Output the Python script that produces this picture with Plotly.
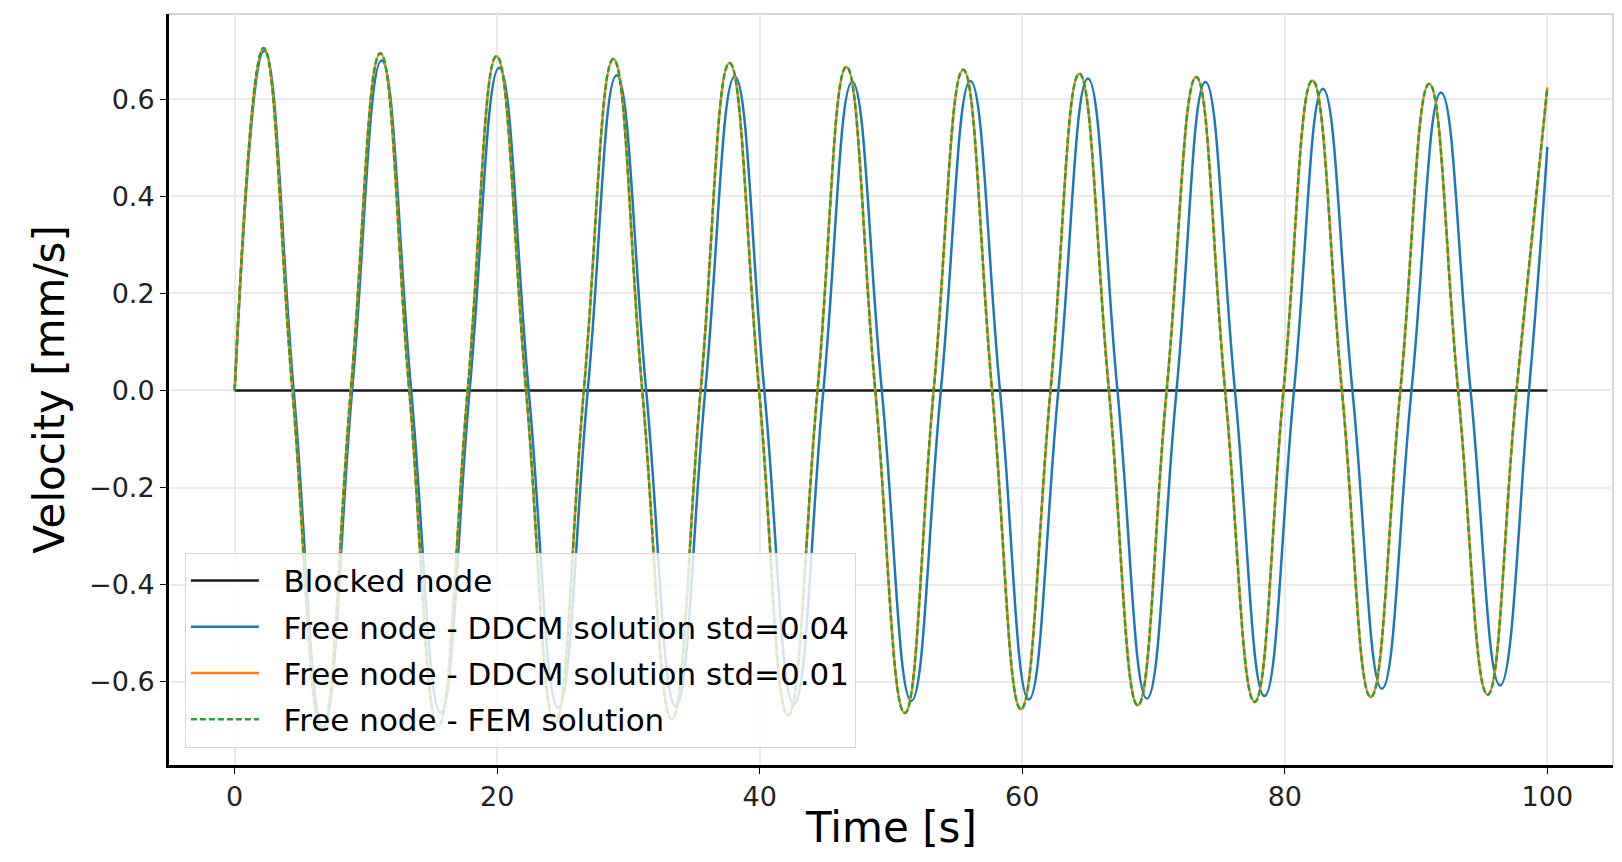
import plotly.graph_objects as go

# ---------------- data ----------------
# Blocked node: zero velocity over the whole time span
blocked_t = [0, 100]
blocked_v = [0.0, 0.0]

# Free node - FEM solution: key points (start, peaks, zero crossings, troughs, end)
fem_t = [0, 2.2, 4.4, 6.65, 8.85, 11.1, 13.3, 15.5, 17.75, 19.95, 22.2, 24.4,
         26.6, 28.85, 31.05, 33.3, 35.5, 37.7, 39.95, 42.15, 44.4, 46.6, 48.8,
         51.05, 53.25, 55.5, 57.7, 59.9, 62.15, 64.35, 66.6, 68.8, 71.0, 73.25,
         75.45, 77.7, 79.9, 82.1, 84.35, 86.55, 88.8, 91.0, 93.2, 95.45, 97.65, 100]
fem_v = [0, 0.706, 0, -0.700, 0, 0.695, 0, -0.692, 0, 0.689, 0, -0.685,
         0, 0.683, 0, -0.678, 0, 0.675, 0, -0.670, 0, 0.667, 0,
         -0.665, 0, 0.661, 0, -0.657, 0, 0.653, 0, -0.649, 0, 0.646,
         0, -0.642, 0, 0.639, 0, -0.632, 0, 0.632, 0, -0.627, 0, 0.625]

# Free node - DDCM solution std=0.01 (visually identical to FEM)
ddcm01_t = list(fem_t)
ddcm01_v = list(fem_v)

# Free node - DDCM solution std=0.04 (slightly longer period)
ddcm04_t = [0, 2.25, 4.5, 6.75, 8.95, 11.2, 13.45, 15.7, 17.9, 20.15, 22.4, 24.65,
            26.9, 29.1, 31.35, 33.6, 35.85, 38.1, 40.35, 42.6, 44.85, 47.05, 49.3,
            51.55, 53.8, 56.05, 58.3, 60.5, 62.75, 65.0, 67.25, 69.5, 71.75, 73.95,
            76.2, 78.45, 80.7, 82.9, 85.15, 87.4, 89.65, 91.9, 94.15, 96.4, 98.6, 100]
ddcm04_v = [0, 0.700, 0, -0.695, 0, 0.680, 0, -0.664, 0, 0.665, 0, -0.654,
            0, 0.650, 0, -0.651, 0, 0.647, 0, -0.647, 0, 0.636, 0,
            -0.640, 0, 0.638, 0, -0.637, 0, 0.643, 0, -0.635, 0, 0.636,
            0, -0.630, 0, 0.622, 0, -0.615, 0, 0.614, 0, -0.608, 0, 0.502]

series_names = ["Blocked node",
                "Free node - DDCM solution std=0.04",
                "Free node - DDCM solution std=0.01",
                "Free node - FEM solution"]

x_title = "Time [s]"
y_title = "Velocity [mm/s]"
x_ticks = [0, 20, 40, 60, 80, 100]
y_ticks = [-0.6, -0.4, -0.2, 0.0, 0.2, 0.4, 0.6]
y_tick_text = ["\u22120.6", "\u22120.4", "\u22120.2", "0.0", "0.2", "0.4", "0.6"]

# ---------------- figure ----------------
FONT = "DejaVu Sans"
LW = 2.5
PAD = "\u00a0\u00a0"  # gap between legend line sample and label
fig = go.Figure()

fig.add_trace(go.Scatter(x=blocked_t, y=blocked_v, mode="lines",
                         name=PAD + series_names[0], legendgroup="a",
                         line=dict(color="#1a1a1a", width=LW)))
fig.add_trace(go.Scatter(x=ddcm04_t, y=ddcm04_v, mode="lines",
                         name=PAD + series_names[1], legendgroup="b",
                         line=dict(color="#1f77b4", width=LW, shape="spline", smoothing=1.3)))
fig.add_trace(go.Scatter(x=ddcm01_t, y=ddcm01_v, mode="lines",
                         name=PAD + series_names[2], legendgroup="c",
                         line=dict(color="#ff7f0e", width=LW, shape="spline", smoothing=1.3)))
fig.add_trace(go.Scatter(x=fem_t, y=fem_v, mode="lines",
                         name=PAD + series_names[3], legendgroup="d",
                         line=dict(color="#2ca02c", width=LW, dash="6px,3px",
                                   shape="spline", smoothing=1.3)))

fig.update_layout(
    width=1606, height=846,
    autosize=False,
    paper_bgcolor="white", plot_bgcolor="white",
    margin=dict(l=161, r=1, t=6, b=89, autoexpand=False),
    font=dict(family=FONT, color="black", size=24),
    showlegend=True,
    legend=dict(
        x=0.011, y=0.023, xanchor="left", yanchor="bottom",
        bgcolor="rgba(255,255,255,0.8)", bordercolor="#d6d6d6", borderwidth=1,
        font=dict(family=FONT, size=31, color="black"),
        traceorder="grouped", tracegroupgap=3, itemwidth=68,
    ),
    shapes=[
        dict(type="line", xref="paper", yref="paper", x0=0, x1=1, y0=1, y1=1,
             line=dict(color="#c8c8c8", width=1.5), layer="below"),
        dict(type="line", xref="paper", yref="paper", x0=1, x1=1, y0=0, y1=1,
             line=dict(color="#c8c8c8", width=1.5), layer="below"),
    ],
    annotations=[
        dict(text=x_title, xref="paper", yref="paper", x=0.5, y=0,
             xanchor="center", yanchor="middle", yshift=-62, showarrow=False,
             font=dict(family=FONT, size=42, color="black")),
    ],
)

fig.update_xaxes(
    range=[-5, 105], tickvals=x_ticks, ticktext=[str(v) for v in x_ticks],
    showgrid=True, gridcolor="#ebebeb", gridwidth=1.5,
    showline=True, linecolor="black", linewidth=3,
    ticks="outside", ticklen=6, tickwidth=1.2, tickcolor="black",
    tickfont=dict(family=FONT, size=27, color="#222"),
    zeroline=False, automargin=False,
)
fig.update_yaxes(
    range=[-0.772, 0.776], tickvals=y_ticks, ticktext=y_tick_text,
    showgrid=True, gridcolor="#ebebeb", gridwidth=1.5,
    showline=True, linecolor="black", linewidth=3,
    ticks="outside", ticklen=6, tickwidth=1.2, tickcolor="black",
    tickfont=dict(family=FONT, size=27, color="#222"),
    zeroline=False, automargin=True,
    title=dict(text=y_title, font=dict(family=FONT, size=42, color="black"), standoff=12),
)

fig.write_html("out.html")
